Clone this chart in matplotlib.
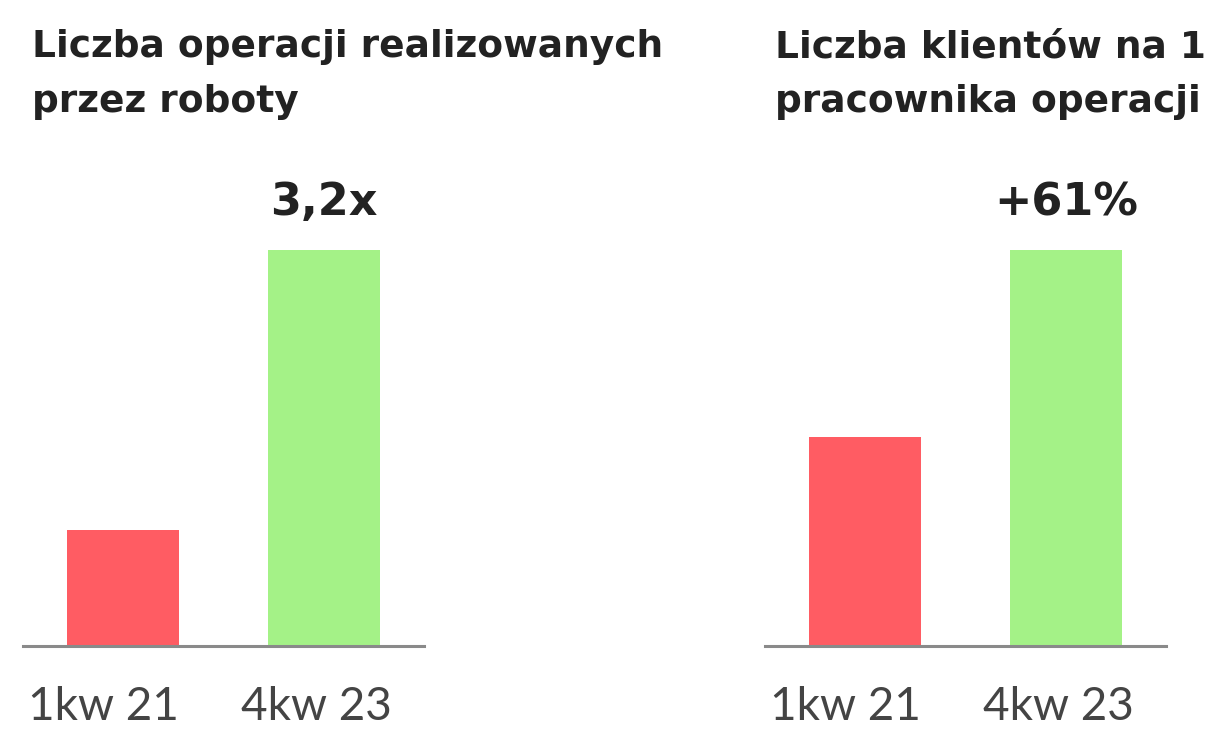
import matplotlib
matplotlib.use("Agg")
import matplotlib.pyplot as plt

# Data (normalised so the taller bar = 100)
categories = ["1kw 21", "4kw 23"]
left_values = [29.3, 100]
right_values = [52.8, 100]
left_title = ["Liczba operacji realizowanych", "przez roboty"]
right_title = ["Liczba klientów na 1", "pracownika operacji"]
left_note = "3,2x"
right_note = "+61%"

RED = "#FF5C63"
GREEN = "#A4F287"
W, H = 1215, 731
DPI = 100

fig = plt.figure(figsize=(W / DPI, H / DPI), dpi=DPI)
fig.patch.set_facecolor("white")

def px_axes(x0, x1, ytop, ybase):
    return fig.add_axes([x0 / W, (H - ybase) / H, (x1 - x0) / W, (ybase - ytop) / H])

def panel(ax, values, note, title, tx):
    ax.bar(range(len(values)), values, width=0.56, color=[RED, GREEN], zorder=1)
    ax.set_xlim(-0.5, len(values) - 0.5)
    ax.set_ylim(0, 100)
    for s in ["top", "left", "right"]:
        ax.spines[s].set_visible(False)
    ax.spines["bottom"].set_color("#8a8a8a")
    ax.spines["bottom"].set_linewidth(2.2)
    ax.spines["bottom"].set_zorder(3)
    ax.set_yticks([])
    ax.set_xticks(range(len(values)))
    ax.set_xticklabels([])
    ax.tick_params(axis="x", length=0)
    ax.patch.set_alpha(0)
    # category labels
    for i, c in enumerate(categories):
        off = -20 if i == 0 else -7
        ax.annotate(c, xy=(i, 0), xycoords="data", xytext=(off, -74),
                    textcoords="offset pixels", ha="center", va="baseline",
                    fontsize=33, color="#444444", family="Lato",
                    annotation_clip=False)
    # note above tallest bar
    imax = values.index(max(values))
    ax.annotate(note, xy=(imax, values[imax]), xytext=(0, 35),
                textcoords="offset pixels", ha="center", va="baseline",
                fontsize=32, fontweight="bold", color="#222222",
                family="DejaVu Sans")
    fig.text(tx / W, 1 - 57 / H, title[0], fontsize=27, fontweight="bold",
             color="#222222", family="DejaVu Sans", va="baseline", ha="left")
    fig.text(tx / W, 1 - 112 / H, title[1], fontsize=27, fontweight="bold",
             color="#222222", family="DejaVu Sans", va="baseline", ha="left")

ax1 = px_axes(23, 424, 250, 645.5)
panel(ax1, left_values, left_note, left_title, 32)
ax2 = px_axes(765, 1166, 250, 645.5)
panel(ax2, right_values, right_note, right_title, 775)

fig.savefig("out.png", dpi=DPI, facecolor="white")
